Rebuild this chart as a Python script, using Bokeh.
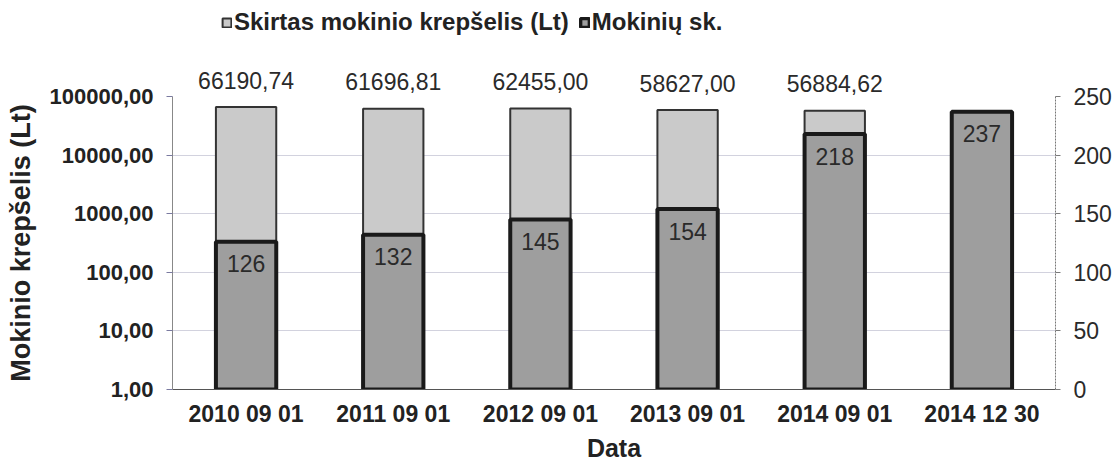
from bokeh.plotting import figure
from bokeh.layouts import column
from bokeh.models import (ColumnDataSource, FactorRange, Range1d, LinearAxis, LinearScale, FixedTicker,
                          CustomJSTickFormatter, Legend, LegendItem)
from bokeh.core.properties import value
from bokeh.embed import file_html
from bokeh.resources import INLINE

# ---- data ----
categories = ["2010 09 01", "2011 09 01", "2012 09 01", "2013 09 01", "2014 09 01", "2014 12 30"]
budget = [66190.74, 61696.81, 62455.00, 58627.00, 56884.62, None]
students = [126, 132, 145, 154, 218, 237]
left_ticks = [1, 10, 100, 1000, 10000, 100000]
right_ticks = [0, 50, 100, 150, 200, 250]
series_names = ["Skirtas mokinio krepšelis (Lt)", "Mokinių sk."]

FONT = "Liberation Sans"
LIGHT_FILL, LIGHT_LINE = "#cacaca", "#333333"
DARK_FILL, DARK_LINE = "#9e9e9e", "#1a1a1a"

W, H_LEG, H = 1117, 44, 464

# ---------- main chart ----------
p = figure(width=W, height=H - H_LEG, x_range=FactorRange(*categories),
           y_axis_type="log", y_range=Range1d(1, 100000),
           output_backend="svg", toolbar_location=None,
           min_border_left=172, min_border_right=62, min_border_top=96 - H_LEG, min_border_bottom=73)
p.outline_line_color = None
p.background_fill_color = "white"
p.border_fill_color = "white"

p.extra_y_ranges = {"cnt": Range1d(0, 250)}
p.extra_y_scales = {"cnt": LinearScale()}

budget_vals = [float("nan") if v is None else v for v in budget]
src_b = ColumnDataSource(dict(x=categories, top=budget_vals, bottom=[1] * len(categories)))
src_s = ColumnDataSource(dict(x=categories, top=students, bottom=[0] * len(categories),
                              lab=[str(v) for v in students]))

p.vbar(x="x", top="top", bottom="bottom", width=0.41, source=src_b,
       fill_color=LIGHT_FILL, line_color=LIGHT_LINE, line_width=2)
p.vbar(x="x", top="top", bottom="bottom", width=0.41, source=src_s,
       y_range_name="cnt", fill_color=DARK_FILL, line_color=DARK_LINE, line_width=4)

# value labels
bx = [c for c, v in zip(categories, budget) if v is not None]
bv = [v for v in budget if v is not None]
src_bl = ColumnDataSource(dict(x=bx, y=bv, lab=[f"{v:.2f}".replace(".", ",") for v in bv]))
p.text(x="x", y="y", text="lab", source=src_bl, y_offset=-27, level="overlay",
       text_align="center", text_baseline="middle",
       text_font=value(FONT), text_font_size=value("23px"), text_color="#2a2a2a")
p.text(x="x", y="top", text="lab", source=src_s, y_range_name="cnt", y_offset=22, level="overlay",
       text_align="center", text_baseline="middle",
       text_font=value(FONT), text_font_size=value("23px"), text_color="#2a2a2a")

# axes
yl = p.yaxis[0]
yl.ticker = FixedTicker(ticks=left_ticks, minor_ticks=[])
yl.formatter = CustomJSTickFormatter(code="return tick.toFixed(2).replace('.', ',');")
yl.axis_label = "Mokinio krepšelis (Lt)"
yl.axis_label_text_font = FONT
yl.axis_label_text_font_size = "27px"
yl.axis_label_text_font_style = "bold"
yl.axis_label_text_color = "#222222"
yl.axis_label_standoff = 11
yl.major_label_text_font = FONT
yl.major_label_text_font_size = "22px"
yl.major_label_text_font_style = "bold"
yl.major_label_text_color = "#222222"
yl.major_label_standoff = 13
yl.axis_line_color = "#888888"
yl.major_tick_line_color = "#7a7aa0"
yl.major_tick_out = 6
yl.major_tick_in = 0
yl.minor_tick_line_color = None

yr = LinearAxis(y_range_name="cnt", ticker=FixedTicker(ticks=right_ticks, minor_ticks=[]))
yr.major_label_text_font = FONT
yr.major_label_text_font_size = "23px"
yr.major_label_text_color = "#2a2a2a"
yr.major_label_standoff = 13
yr.axis_line_color = "#777777"
yr.axis_line_dash = "2 1"
yr.major_tick_line_color = "#7a7a7a"
yr.major_tick_out = 5
yr.major_tick_in = 0
yr.minor_tick_line_color = None
p.add_layout(yr, "right")

xa = p.xaxis[0]
xa.axis_label = "Data"
xa.axis_label_text_font = FONT
xa.axis_label_text_font_size = "25px"
xa.axis_label_text_font_style = "bold"
xa.axis_label_text_color = "#222222"
xa.axis_label_standoff = 4
xa.major_label_text_font = FONT
xa.major_label_text_font_size = "23px"
xa.major_label_text_font_style = "bold"
xa.major_label_text_color = "#222222"
xa.major_label_standoff = 5
xa.axis_line_color = "#555555"
xa.major_tick_line_color = None
xa.minor_tick_line_color = None

p.xgrid.grid_line_color = None
p.ygrid.grid_line_color = "#d2d2de"
p.ygrid.grid_line_width = 1

# ---------- legend strip (frame aligned with the chart's frame) ----------
lg = figure(width=W, height=H_LEG, x_range=Range1d(0, 1), y_range=Range1d(0, 1),
            x_axis_location=None, y_axis_location=None,
            output_backend="svg", toolbar_location=None,
            min_border=0, min_border_left=0, min_border_right=0, min_border_top=0, min_border_bottom=0)
lg.grid.visible = False
lg.outline_line_color = None
lg.background_fill_color = "white"
lg.border_fill_color = "white"
# hidden proxy glyphs that only provide the legend swatches
proxy = dict(x=[0.5], top=[0.5], bottom=[0.4])
l1 = lg.vbar(x="x", top="top", bottom="bottom", width=0.1, source=ColumnDataSource(proxy),
             fill_color=LIGHT_FILL, line_color=LIGHT_LINE, line_width=2, visible=False)
l2 = lg.vbar(x="x", top="top", bottom="bottom", width=0.1, source=ColumnDataSource(proxy),
             fill_color=DARK_FILL, line_color=DARK_LINE, line_width=3.5, visible=False)
legend = Legend(items=[LegendItem(label=series_names[0], renderers=[l1]),
                       LegendItem(label=series_names[1], renderers=[l2])],
                orientation="horizontal", location=(49, 8),
                padding=0, margin=0, spacing=10, label_standoff=2,
                glyph_width=11, glyph_height=11,
                label_text_font=FONT, label_text_font_size="24px", label_text_font_style="bold",
                label_text_color="#222222",
                border_line_color=None, background_fill_alpha=0)
lg.add_layout(legend, "center")

layout = column(lg, p, spacing=0)
open("out.html", "w").write(file_html(layout, INLINE))
